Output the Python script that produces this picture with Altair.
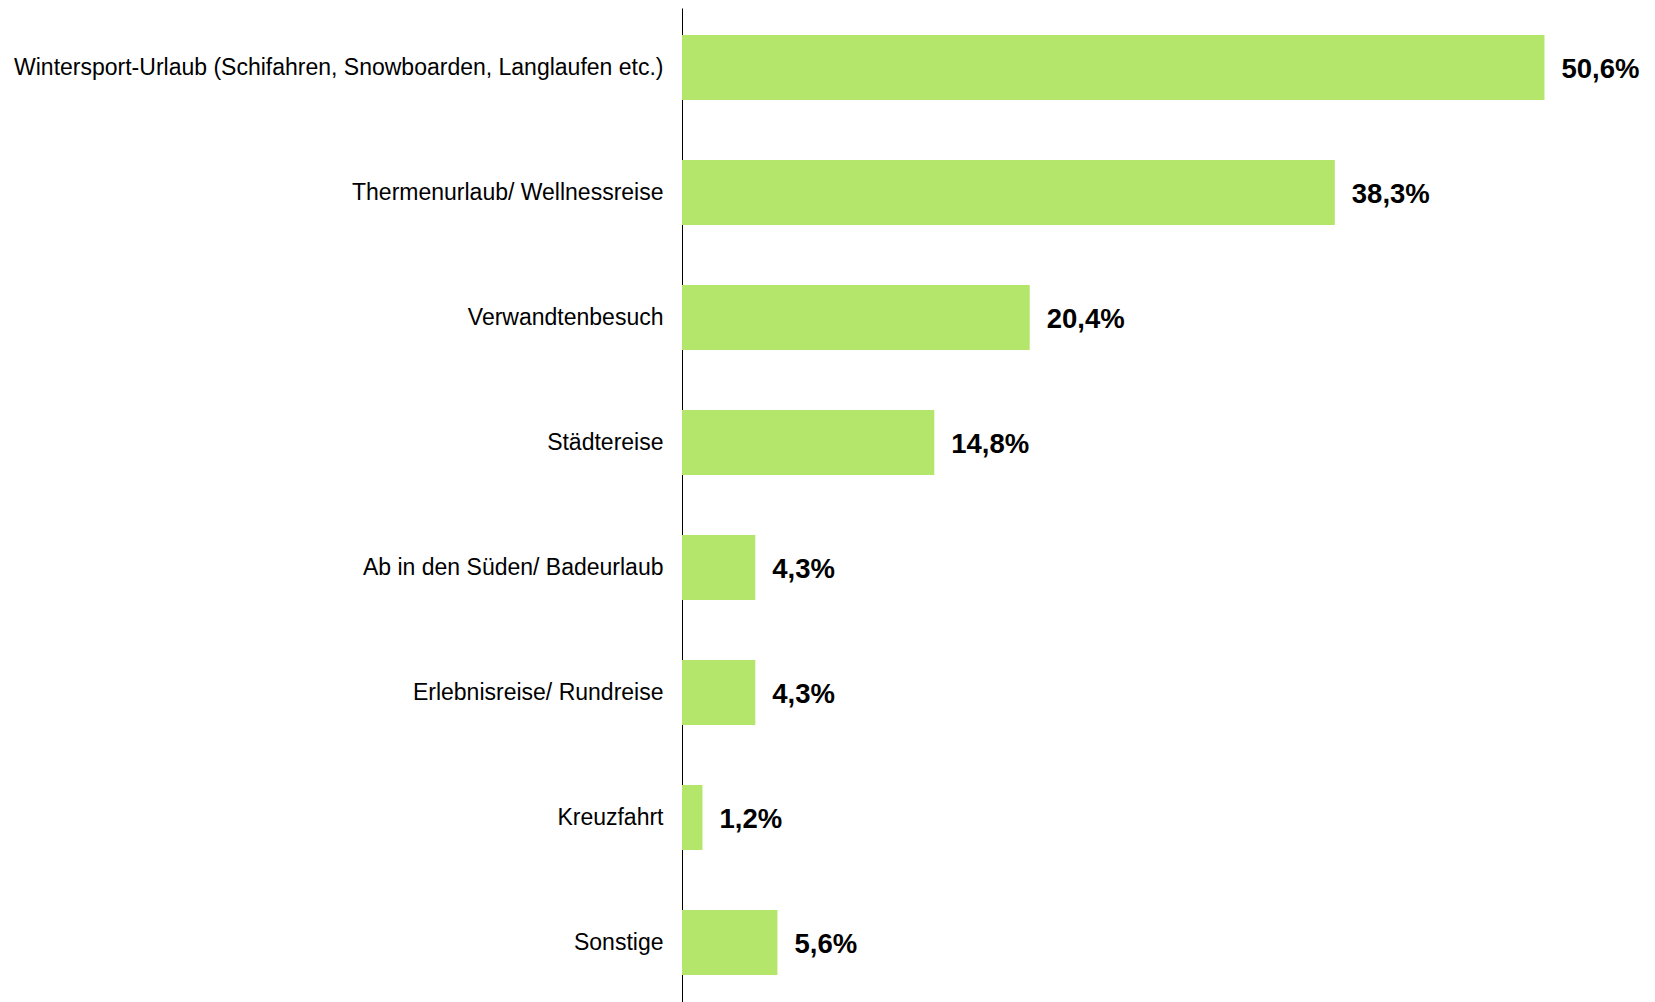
import altair as alt
import pandas as pd

categories = [
    "Wintersport-Urlaub (Schifahren, Snowboarden, Langlaufen etc.)",
    "Thermenurlaub/ Wellnessreise",
    "Verwandtenbesuch",
    "Städtereise",
    "Ab in den Süden/ Badeurlaub",
    "Erlebnisreise/ Rundreise",
    "Kreuzfahrt",
    "Sonstige",
]
values = [50.6, 38.3, 20.4, 14.8, 4.3, 4.3, 1.2, 5.6]
labels = ["50,6%", "38,3%", "20,4%", "14,8%", "4,3%", "4,3%", "1,2%", "5,6%"]

df = pd.DataFrame({"cat": categories, "value": values, "label": labels})

y = alt.Y(
    "cat:N",
    sort=categories,
    title=None,
    scale=alt.Scale(paddingInner=0.48, paddingOuter=0.216),
    axis=alt.Axis(
        ticks=False,
        labelPadding=19,
        labelFont="Liberation Sans",
        labelFontSize=23,
        labelColor="#000000",
        labelLimit=1000,
        domainColor="#000000",
        domainWidth=1,
        grid=False,
    ),
)
x = alt.X(
    "value:Q",
    scale=alt.Scale(domain=[0, 55.5], nice=False),
    axis=None,
)

bars = alt.Chart(df).mark_bar(color="#B3E66B").encode(x=x, y=y)
text = alt.Chart(df).mark_text(
    align="left", baseline="middle", dx=17, dy=2,
    font="Liberation Sans", fontSize=27.5, fontWeight="bold", color="#000000"
).encode(x=x, y=y, text="label:N")

chart = (bars + text).properties(
    width=946,
    height=994,
    autosize=alt.AutoSizeParams(type="none"),
    padding={"left": 674, "top": 0, "right": 16, "bottom": 0},
).configure_view(stroke=None)

chart.save("out.html", embed_options={"renderer": "svg", "actions": False})
